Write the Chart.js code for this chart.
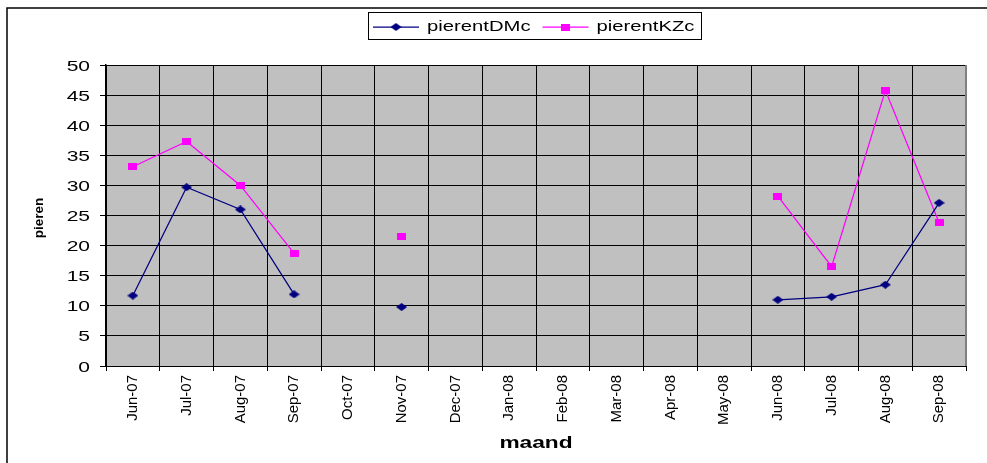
<!DOCTYPE html>
<html>
<head>
<meta charset="utf-8">
<script src="https://cdn.jsdelivr.net/npm/chart.js@4/dist/chart.umd.min.js"></script>
<style>
  html, body { margin: 0; padding: 0; background: #fff; }
  canvas { display: block; }
</style>
</head>
<body>
<canvas id="chart" width="987" height="463"></canvas>
<script>
// Monthly categories on the x axis
const months = ['Jun-07', 'Jul-07', 'Aug-07', 'Sep-07', 'Oct-07', 'Nov-07', 'Dec-07', 'Jan-08',
                'Feb-08', 'Mar-08', 'Apr-08', 'May-08', 'Jun-08', 'Jul-08', 'Aug-08', 'Sep-08'];

// Series values (null = no measurement that month)
const pierentDMc = [11.7, 29.7, 26.0, 11.9, null, 9.8, null, null,
                    null, null, null, null, 11.0, 11.5, 13.5, 27.1];
const pierentKZc = [33.1, 37.3, 30.0, 18.7, null, 21.5, null, null,
                    null, null, null, null, 28.2, 16.5, 45.8, 23.8];

// Value axis tick labels
const yTickValues = [0, 5, 10, 15, 20, 25, 30, 35, 40, 45, 50];

const FONT = "'Liberation Sans', Arial, sans-serif";
const NAVY = '#000080';
const MAGENTA = '#ff00ff';

// Marker sprites: a wide diamond and a wide square
function makeMarker(kind, w, h, color) {
  const c = document.createElement('canvas');
  c.width = w; c.height = h;
  const g = c.getContext('2d');
  g.fillStyle = color;
  if (kind === 'diamond') {
    g.beginPath();
    g.moveTo(w / 2, 0); g.lineTo(w, h / 2); g.lineTo(w / 2, h); g.lineTo(0, h / 2);
    g.closePath(); g.fill();
  } else {
    g.fillRect(0, 0, w, h);
  }
  return c;
}
const diamond = makeMarker('diamond', 11, 8, NAVY);
const square = makeMarker('square', 9, 7, MAGENTA);

// Text drawn with a horizontal stretch (wide Excel-style lettering)
function wideText(ctx, text, x, y, opts) {
  ctx.save();
  ctx.font = opts.font;
  ctx.fillStyle = opts.color || '#000';
  ctx.textAlign = opts.align || 'left';
  ctx.textBaseline = 'alphabetic';
  ctx.translate(x, y);
  if (opts.rotate) ctx.rotate(opts.rotate);
  ctx.scale(opts.sx || 1, 1);
  ctx.fillText(text, 0, 0);
  const w = ctx.measureText(text).width * (opts.sx || 1);
  ctx.restore();
  return w;
}

const frame = {
  id: 'frame',
  beforeDraw(chart) {
    const { ctx, chartArea: a } = chart;
    ctx.save();
    ctx.fillStyle = '#fff';
    ctx.fillRect(0, 0, chart.width, chart.height);
    // outer chart border
    ctx.strokeStyle = '#000';
    ctx.lineWidth = 1.5;
    ctx.beginPath();
    ctx.moveTo(7, chart.height);
    ctx.lineTo(7, 8);
    ctx.lineTo(chart.width, 8);
    ctx.stroke();
    // plot area fill
    ctx.fillStyle = '#c0c0c0';
    ctx.fillRect(a.left, a.top, a.right - a.left, a.bottom - a.top);
    ctx.restore();
  },
  afterDraw(chart) {
    const { ctx, chartArea: a } = chart;
    const ys = chart.scales.y;

    // plot area right edge
    ctx.save();
    ctx.strokeStyle = '#808080';
    ctx.lineWidth = 2;
    ctx.beginPath();
    ctx.moveTo(a.right, a.top);
    ctx.lineTo(a.right, a.bottom);
    ctx.stroke();
    ctx.restore();

    // value axis labels
    ys.ticks.forEach(t => {
      const y = ys.getPixelForValue(t.value);
      wideText(ctx, String(t.value), 90, y + 5.5, { font: '15px ' + FONT, align: 'right', sx: 1.4 });
    });

    // axis titles
    wideText(ctx, 'maand', (a.left + a.right) / 2, 448, { font: 'bold 16px ' + FONT, align: 'center', sx: 1.42 });
    wideText(ctx, 'pieren', 43, 218, { font: 'bold 13.5px ' + FONT, align: 'center', rotate: -Math.PI / 2 });

    // legend
    ctx.save();
    ctx.strokeStyle = '#000';
    ctx.lineWidth = 1;
    ctx.strokeRect(368.5, 12.5, 333, 27);
    ctx.restore();
    let x = 373;
    const cy = 27;
    chart.data.datasets.forEach(ds => {
      ctx.save();
      ctx.strokeStyle = ds.borderColor;
      ctx.lineWidth = 1.25;
      ctx.beginPath();
      ctx.moveTo(x, cy);
      ctx.lineTo(x + 46, cy);
      ctx.stroke();
      const img = ds.pointStyle;
      ctx.drawImage(img, x + 23 - img.width / 2, cy - img.height / 2);
      ctx.restore();
      const w = wideText(ctx, ds.label, x + 54, 30.5, { font: '15px ' + FONT, sx: 1.35 });
      x = x + 54 + w + 12;
    });
  }
};

new Chart(document.getElementById('chart'), {
  type: 'line',
  data: {
    labels: months,
    datasets: [
      {
        label: 'pierentDMc',
        data: pierentDMc,
        borderColor: NAVY,
        backgroundColor: NAVY,
        borderWidth: 1.25,
        pointStyle: diamond,
        pointRadius: 5,
        spanGaps: false,
        tension: 0
      },
      {
        label: 'pierentKZc',
        data: pierentKZc,
        borderColor: MAGENTA,
        backgroundColor: MAGENTA,
        borderWidth: 1.25,
        pointStyle: square,
        pointRadius: 5,
        spanGaps: false,
        tension: 0
      }
    ]
  },
  options: {
    responsive: false,
    animation: false,
    devicePixelRatio: 1,
    layout: { padding: { top: 65, right: 21, left: 0, bottom: 0 } },
    plugins: {
      legend: { display: false },
      tooltip: { enabled: false }
    },
    scales: {
      x: {
        offset: true,
        grid: { offset: true, color: '#000', lineWidth: 1, tickLength: 5, drawTicks: true },
        border: { display: true, color: '#000', width: 1 },
        ticks: {
          autoSkip: false,
          minRotation: 90,
          maxRotation: 90,
          padding: 4,
          color: '#000',
          font: { family: FONT, size: 15 }
        },
        afterFit(scale) { scale.height = 97; }
      },
      y: {
        min: 0,
        max: 50,
        afterBuildTicks(scale) { scale.ticks = yTickValues.map(v => ({ value: v })); },
        grid: { color: '#000', lineWidth: 1, tickLength: 6, drawTicks: true },
        border: { display: true, color: '#000', width: 1.5 },
        ticks: { display: false },
        afterFit(scale) { scale.width = 106; }
      }
    }
  },
  plugins: [frame]
});
</script>
</body>
</html>
